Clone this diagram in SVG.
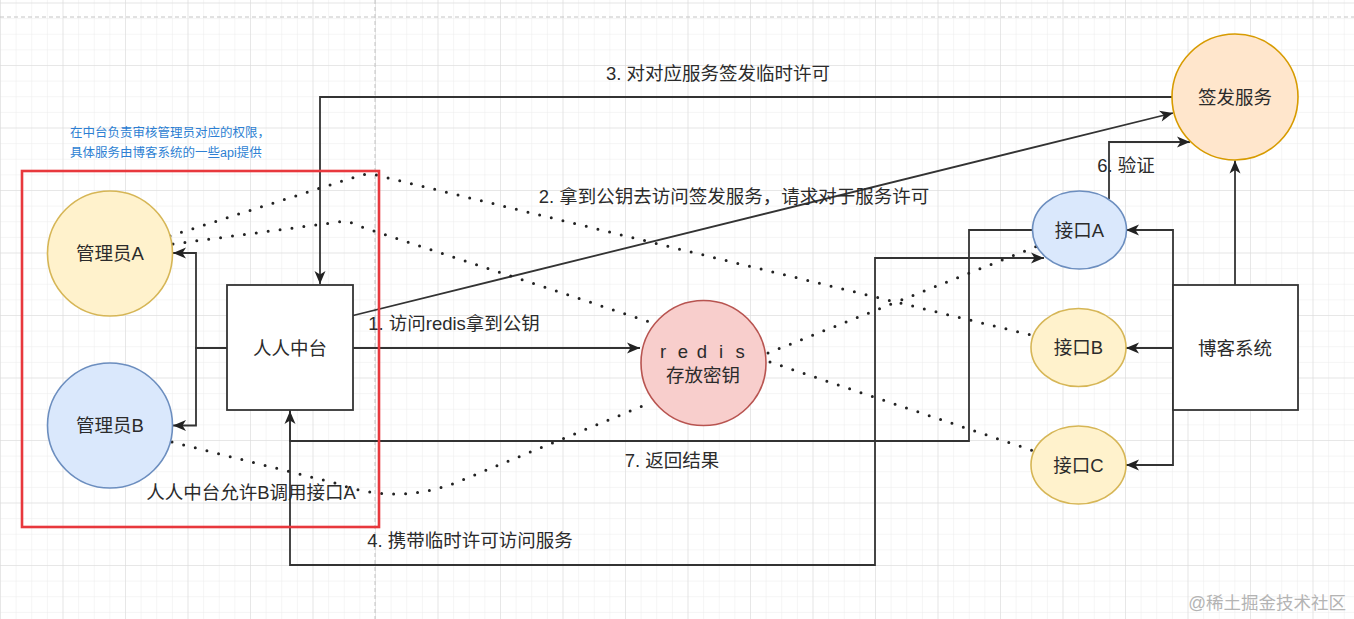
<svg xmlns="http://www.w3.org/2000/svg" width="1354" height="619" viewBox="0 0 1354 619">
<style>
text{font-family:"Liberation Sans","Noto Sans CJK SC",sans-serif;font-size:18.5px;fill:#2b2b2b;}
.lbl{text-anchor:middle;}
.node-t{text-anchor:middle;}
.solid{fill:none;stroke:#333;stroke-width:1.8;}
.dot{fill:none;stroke:#222;stroke-width:3;stroke-linecap:round;stroke-dasharray:0 12;}
.box{fill:#fff;stroke:#333;stroke-width:1.8;}
.yel{fill:#fff2cc;stroke:#d6b656;stroke-width:1.6;}
.blu{fill:#dae8fc;stroke:#6c8ebf;stroke-width:1.6;}
.red{fill:#f8cecc;stroke:#b85450;stroke-width:1.6;}
.org{fill:#ffe6cc;stroke:#d79b00;stroke-width:1.6;}
.note{font-size:12.5px;fill:#2d7fd3;}
</style>
<defs>
<pattern id="minor" width="15.625" height="15.625" patternUnits="userSpaceOnUse" x="0" y="2.5">
<path d="M0,0 H15.625 M0,0 V15.625" fill="none" stroke="#ececec" stroke-width="1"/>
</pattern>
<pattern id="major" width="62.5" height="62.5" patternUnits="userSpaceOnUse" x="0" y="2.5">
<path d="M0,0 H62.5 M0,0 V62.5" fill="none" stroke="#dadada" stroke-width="1"/>
</pattern>
<marker id="arr" markerWidth="14" markerHeight="12" refX="13" refY="5.5" orient="auto" markerUnits="userSpaceOnUse" overflow="visible">
<path d="M0,0 L13,5.5 L0,11 L3.5,5.5 Z" fill="#222"/>
</marker>
</defs>
<g id="background">
<rect width="1354" height="619" fill="#fff"/>
<rect width="1354" height="619" fill="url(#minor)"/>
<rect width="1354" height="619" fill="url(#major)"/>
<path d="M0,17 H1354 M375,0 V619" stroke="#c4c4c4" stroke-width="1" stroke-dasharray="4 3" fill="none"/>
</g>
<g id="connectors">
<path class="solid" d="M353,348 H640" marker-end="url(#arr)"/>
<path class="solid" d="M349,316.5 L1173,113" marker-end="url(#arr)"/>
<path class="solid" d="M1172,97 H320 V284" marker-end="url(#arr)"/>
<path class="solid" d="M290,410 V565 H875 V258 H1044" marker-end="url(#arr)"/>
<path class="solid" d="M1032,230 H969 V441 H290 V411" marker-end="url(#arr)"/>
<path class="solid" d="M1109,199 V142 H1190" marker-end="url(#arr)"/>
<path class="solid" d="M1235,285 V160.5" marker-end="url(#arr)"/>
<path class="solid" d="M1173,348 V230 H1126" marker-end="url(#arr)"/>
<path class="solid" d="M1173,348 H1126" marker-end="url(#arr)"/>
<path class="solid" d="M1173,348 V465 H1126" marker-end="url(#arr)"/>
<path class="solid" d="M227,348 H196 V253 H173" marker-end="url(#arr)"/>
<path class="solid" d="M227,348 H196 V425.5 H173" marker-end="url(#arr)"/>
<path class="dot" d="M170,236 L355,177 Q368,172 380,176 L1031,335"/>
<path class="dot" d="M173,244 L338,222 Q348,220 356,225 L650,322"/>
<path class="dot" d="M172,442 L335,483 Q395,505 455,483 L645,405"/>
<path class="dot" d="M768,353 L1040,245"/>
<path class="dot" d="M770,362 L1034,451"/>
</g>
<g id="edge-labels">
<text class="lbl" x="454" y="329.5">1. 访问redis拿到公钥</text>
<text class="lbl" x="734" y="203">2. 拿到公钥去访问签发服务，请求对于服务许可</text>
<text class="lbl" x="718" y="79.5">3. 对对应服务签发临时许可</text>
<text class="lbl" x="470" y="546.5">4. 携带临时许可访问服务</text>
<text class="lbl" x="1126" y="171.5">6. 验证</text>
<text class="lbl" x="672" y="466.5">7. 返回结果</text>
<text class="lbl" x="251" y="498.5">人人中台允许B调用接口A</text>
</g>
<g id="node-adminA">
<circle class="yel" cx="110" cy="253.5" r="62.5"/>
<text class="node-t" x="110" y="260">管理员A</text>
</g>
<g id="node-adminB">
<circle class="blu" cx="110" cy="425.5" r="62.5"/>
<text class="node-t" x="110" y="432">管理员B</text>
</g>
<g id="node-renren">
<rect class="box" x="227" y="285" width="126" height="125"/>
<text class="node-t" x="290" y="354.5">人人中台</text>
</g>
<g id="node-redis">
<circle class="red" cx="703.5" cy="363" r="62.5"/>
<text class="node-t" x="663 683 702 721 740" y="358">redis</text>
<text class="node-t" x="703" y="381.5">存放密钥</text>
</g>
<g id="node-sign">
<circle class="org" cx="1235" cy="97" r="63"/>
<text class="node-t" x="1235" y="104">签发服务</text>
</g>
<g id="node-apiA">
<ellipse class="blu" cx="1079.5" cy="230" rx="47" ry="39"/>
<text class="node-t" x="1079.5" y="236.5">接口A</text>
</g>
<g id="node-apiB">
<ellipse class="yel" cx="1078.5" cy="347.5" rx="47.5" ry="39"/>
<text class="node-t" x="1078.5" y="354">接口B</text>
</g>
<g id="node-apiC">
<ellipse class="yel" cx="1078.5" cy="465" rx="47.5" ry="39"/>
<text class="node-t" x="1078.5" y="471.5">接口C</text>
</g>
<g id="node-blog">
<rect class="box" x="1173" y="285" width="125" height="125"/>
<text class="node-t" x="1235" y="354.5">博客系统</text>
</g>
<g id="note">
<text class="note" x="70" y="136.5">在中台负责审核管理员对应的权限，</text>
<text class="note" x="70" y="156.5">具体服务由博客系统的一些api提供</text>
</g>
<g id="group-box">
<rect x="22" y="171" width="357" height="356" fill="none" stroke="#e8383d" stroke-width="2.6"/>
</g>
<g id="watermark">
<text x="1346" y="609" style="text-anchor:end;font-size:17.5px;fill:#b4b4b4;">@稀土掘金技术社区</text>
</g>
</svg>
